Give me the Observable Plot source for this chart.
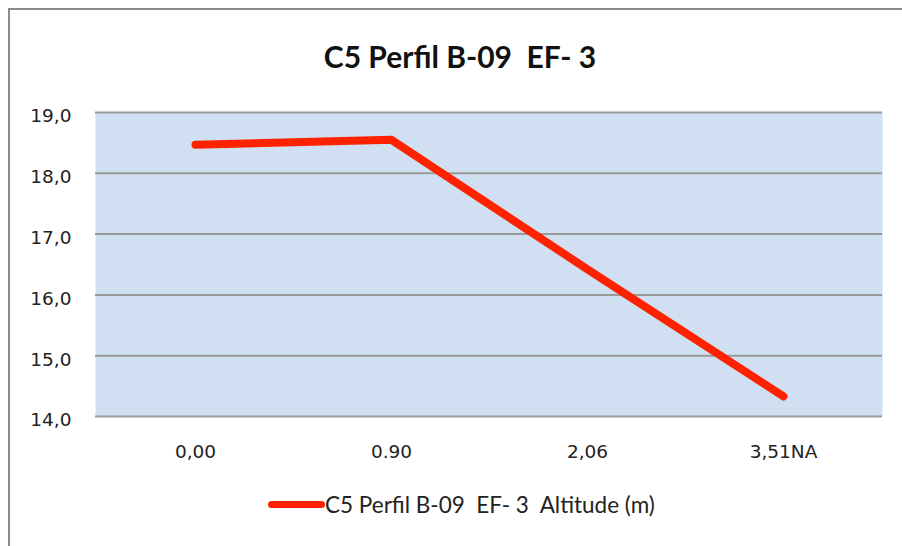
<!DOCTYPE html>
<html>
<head>
<meta charset="utf-8">
<script src="https://cdn.jsdelivr.net/npm/d3@7"></script>
<script src="https://cdn.jsdelivr.net/npm/@observablehq/plot@0.6"></script>
<style>
  html, body { margin: 0; padding: 0; background: #fff; }
  #wrap { position: relative; width: 902px; height: 546px; overflow: hidden; background: #fff; }
  #border { position: absolute; left: 8px; top: 8px; width: 960px; height: 600px;
            border-left: 2px solid #8c8c8c; border-top: 2px solid #8c8c8c; }
  #chart { position: absolute; left: 0; top: 0; }
  #title { position: absolute; left: 0; width: 920px; top: 38px; text-align: center;
           font-family: Lato, "Open Sans", sans-serif; font-weight: bold; font-size: 30px; color: #111; }
  #legend { position: absolute; left: 268px; top: 491px; display: flex; align-items: center;
            font-family: Lato, "Open Sans", sans-serif; font-size: 22.5px; color: #222; }
  #legend .sw { display: inline-block; width: 57px; height: 7px; background: #ff2200; border-radius: 4px; }
</style>
</head>
<body>
<div id="wrap">
  <div id="border"></div>
  <div id="chart"></div>
  <div id="title">C5 Perfil B-09&nbsp; EF- 3</div>
  <div id="legend"><span class="sw"></span><span>C5 Perfil B-09&nbsp; EF- 3&nbsp; Altitude (m)</span></div>
</div>
<script>
const categories = ["0,00", "0.90", "2,06", "3,51NA"];
const altitude = [18.47, 18.55, 16.42, 14.33];
const yTicks = [14, 15, 16, 17, 18, 19];
const seriesName = "C5 Perfil B-09  EF- 3  Altitude (m)";

const data = categories.map((c, i) => ({ cat: c, alt: altitude[i] }));

const chart = Plot.plot({
  width: 902,
  height: 546,
  marginTop: 112,
  marginBottom: 130,
  marginLeft: 95,
  marginRight: 20,
  style: { fontFamily: "DejaVu Sans, sans-serif", fontSize: "18px", color: "#222", background: "transparent" },
  x: { type: "point", domain: categories, padding: 0.5, label: null },
  y: { domain: [14, 19], ticks: yTicks, label: null },
  marks: [
    Plot.frame({ fill: "#d0e0f2", stroke: null }),
    Plot.ruleY(yTicks, { stroke: "#999", strokeWidth: 2 }),
    Plot.axisY({ ticks: yTicks, tickSize: 0, tickPadding: 24, tickFormat: d => d.toFixed(1).replace(".", ","), dy: 4, label: null, fontSize: 18.5 }),
    Plot.axisX({ tickSize: 0, tickPadding: 28, label: null, fontSize: 18.5 }),
    Plot.line(data, { x: "cat", y: "alt", stroke: "#ff2200", strokeWidth: 8, strokeLinecap: "round", strokeLinejoin: "round" })
  ]
});
document.getElementById("chart").appendChild(chart);
</script>
</body>
</html>
